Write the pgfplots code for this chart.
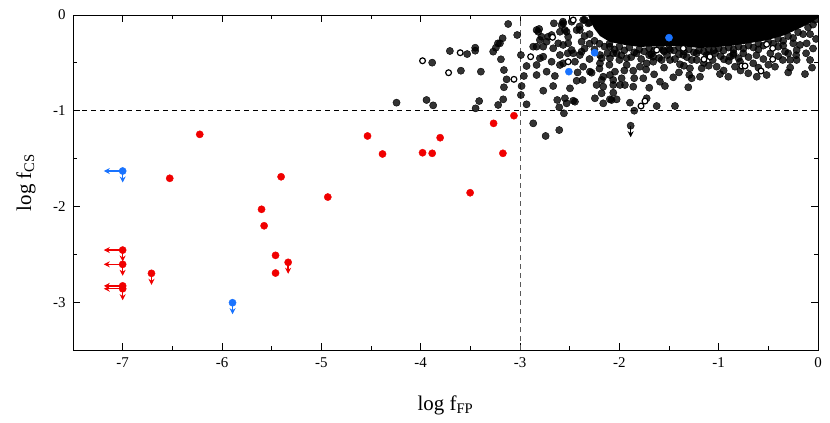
\documentclass[border=0pt]{standalone}
\usepackage{fontspec}
\setmainfont{Liberation Serif}
\usepackage{pgfplots}
\pgfplotsset{compat=1.18}
\usetikzlibrary{arrows.meta}
\definecolor{myred}{RGB}{240,0,0}
\definecolor{myblue}{RGB}{25,115,255}
\begin{document}
\begin{tikzpicture}
\begin{axis}[
 width=745bp, height=335bp, scale only axis,
 xmin=-7.5, xmax=0, ymin=-3.5, ymax=0,
 xtick={-7,-6,-5,-4,-3,-2,-1,0}, ytick={-3,-2,-1,0},
 minor xtick={-6.5,-5.5,-4.5,-3.5,-2.5,-1.5,-0.5},
 minor ytick={-2.5,-1.5,-0.5},
 tick align=inside,
 major tick length=7bp, minor tick length=4bp,
 tick style={black, line width=0.8bp},
 axis line style={line width=0.9bp},
 clip marker paths=true,
 /pgf/number format/assume math mode=true,
 ticklabel style={font=\fontsize{15}{15}\selectfont},
 xticklabel style={yshift=-4bp},
 yticklabel style={xshift=-4bp},
 xlabel={log f\textsubscript{FP}},
 ylabel={log f\textsubscript{CS}},
 label style={font=\fontsize{21}{21}\selectfont, inner sep=0pt},
 xlabel style={at={(axis description cs:0.5,-0.135)}, anchor=north},
 ylabel style={at={(axis description cs:-0.05,0.5)}, anchor=south},
]
% reference lines
\addplot[black!65, line width=1bp, dash pattern=on 5bp off 4bp] coordinates {(-3,-3.5) (-3,0)};
\addplot[black, line width=1bp, dash pattern=on 5bp off 4bp] coordinates {(-7.5,-1) (0,-1)};

% saturated core of the dense cluster
\addplot[fill=black, draw=none, mark=none] coordinates {
(-2.316,0) (0,0) (0,-0.031) (-0.060,-0.073) (-0.181,-0.136) (-0.332,-0.209)
(-0.504,-0.261) (-0.685,-0.293) (-0.886,-0.324) (-1.188,-0.345) (-1.390,-0.324)
(-1.591,-0.324) (-1.793,-0.334) (-1.944,-0.313) (-2.095,-0.282) (-2.195,-0.219)
(-2.256,-0.136) (-2.296,-0.052) (-2.316,0)};

% black scattered points
\addplot[only marks, black, mark=*, mark size=3.6bp, mark options={draw=none, fill=black, fill opacity=0.8}] table {
x y
-3.119 -0.094
-3.028 -0.209
-3.706 -0.376
-3.451 -0.342
-3.451 -0.373
-3.532 -0.408
-3.884 -0.498
-3.595 -0.582
-3.394 -0.592
-3.270 -0.383
-3.202 -0.296
-3.175 -0.243
-3.192 -0.463
-3.162 -0.575
-3.135 -0.672
-3.162 -0.755
-3.169 -0.881
-3.220 -0.940
-3.411 -0.899
-3.447 -0.975
-3.941 -0.888
-3.874 -0.944
-2.991 -0.418
-2.984 -0.742
-2.991 -0.836
-2.961 -0.637
-2.867 -1.132
-2.742 -1.264
-2.605 -1.202
-2.558 -1.027
-2.605 -0.964
-2.531 -0.923
-2.548 -0.870
-2.464 -0.896
-2.497 -0.766
-2.625 -0.888
-2.766 -0.791
-2.666 -0.742
-2.649 -0.637
-2.732 -0.592
-2.833 -0.627
-2.934 -0.533
-2.833 -0.522
-2.800 -0.452
-2.867 -0.331
-2.817 -0.175
-2.716 -0.227
-2.659 -0.087
-2.548 -0.157
-2.370 -0.679
-2.430 -0.687
-2.229 -0.731
-2.246 -0.870
-2.162 -0.923
-2.078 -0.888
-2.178 -0.818
-2.061 -0.731
-2.279 -0.603
-2.178 -0.679
-4.243 -0.916
-2.934 -0.933
-3.222 -0.296
-3.243 -0.342
-2.833 -0.331
-2.807 -0.146
-2.783 -0.227
-1.759 -0.661
-1.699 -0.760
-1.541 -0.742
-1.457 -0.651
-1.306 -0.755
-1.390 -0.515
-1.289 -0.557
-1.296 -0.627
-1.188 -0.645
-1.171 -0.557
-1.020 -0.540
-0.987 -0.617
-0.903 -0.645
-0.836 -0.540
-0.702 -0.609
-0.617 -0.645
-0.517 -0.627
-0.433 -0.540
-0.131 -0.617
-0.215 -0.470
-0.282 -0.470
-0.355 -0.470
-0.332 -0.383
-0.215 -0.366
-0.114 -0.296
-0.181 -0.313
-0.249 -0.296
-2.061 -0.812
-2.095 -0.881
-2.027 -0.881
-1.893 -0.916
-1.850 -1.000
-1.725 -0.870
-1.624 -0.951
-1.440 -0.951
-1.994 -0.731
-1.944 -0.731
-1.977 -0.661
-1.860 -0.582
-1.926 -0.522
-1.793 -0.540
-1.659 -0.488
-1.574 -0.470
-1.490 -0.470
-1.272 -0.470
-1.222 -0.400
-1.121 -0.418
-0.853 -0.418
-0.752 -0.400
-0.652 -0.505
-1.037 -0.400
-0.947 -0.463
-2.162 -0.749
-2.162 -0.645
-2.044 -0.592
-2.581 -0.104
-2.480 -0.070
-2.531 -0.175
-2.397 -0.157
-2.313 -0.087
-2.833 -0.157
-2.800 -0.261
-2.682 -0.209
-2.766 -0.331
-2.615 -0.296
-2.515 -0.296
-2.380 -0.279
-2.480 -0.366
-2.380 -0.383
-2.598 -0.418
-2.766 -0.436
-2.682 -0.488
-2.598 -0.522
-2.447 -0.488
-2.364 -0.540
-2.296 -0.592
-2.195 -0.505
-2.095 -0.452
-2.195 -0.418
-2.095 -0.331
-2.027 -0.400
-1.926 -0.452
-1.725 -0.505
-1.659 -0.436
-2.061 -0.679
-1.860 -0.749
-2.447 -0.906
-1.591 -0.697
-2.095 -0.627
-1.558 -0.366
-2.464 -0.400
-2.565 -0.505
-2.565 -0.087
-2.061 -0.400
-1.826 -0.400
-1.272 -0.661
-0.400 -0.331
-0.785 -0.488
-0.886 -0.436
-1.356 -0.418
-1.490 -0.366
-2.568 -0.070
-2.364 -0.052
-2.430 -0.157
-2.598 -0.175
-2.515 -0.227
-2.732 -0.279
-2.666 -0.348
-2.565 -0.313
-2.397 -0.418
-2.178 -0.452
-2.35 -0.05
-2.40 -0.12
-2.35 -0.22
-2.30 -0.30
-2.30 -0.08
-2.30 -0.20
-2.25 -0.27
-2.20 -0.30
-2.15 -0.33
-2.10 -0.30
-2.05 -0.36
-2.00 -0.33
-1.95 -0.37
-1.90 -0.34
-1.85 -0.39
-1.80 -0.36
-1.75 -0.38
-1.70 -0.35
-1.65 -0.37
-1.60 -0.34
-1.55 -0.38
-1.50 -0.35
-1.45 -0.37
-1.40 -0.34
-1.35 -0.38
-1.30 -0.36
-1.25 -0.39
-1.20 -0.37
-1.15 -0.38
-1.10 -0.36
-1.05 -0.37
-1.00 -0.35
-0.95 -0.37
-0.90 -0.34
-0.85 -0.36
-0.80 -0.33
-0.75 -0.35
-0.70 -0.32
-0.65 -0.34
-0.60 -0.30
-0.55 -0.32
-0.50 -0.28
-0.45 -0.30
-0.40 -0.25
-0.35 -0.27
-0.30 -0.22
-0.25 -0.24
-0.20 -0.18
-0.15 -0.20
-0.10 -0.13
-0.05 -0.10
-0.03 -0.05
-1.98 -0.42
-1.70 -0.42
-1.40 -0.41
-1.10 -0.42
-0.85 -0.40
-0.60 -0.36
-0.35 -0.32
-0.08 -0.20
-2.25 -0.36
-2.12 -0.40
-2.00 -0.47
-1.88 -0.44
-1.78 -0.46
-1.68 -0.41
-1.60 -0.45
-1.52 -0.42
-1.44 -0.46
-1.32 -0.44
-1.22 -0.47
-1.15 -0.50
-1.06 -0.47
-0.98 -0.43
-0.90 -0.48
-0.80 -0.45
-0.70 -0.44
-0.62 -0.42
-0.55 -0.46
-0.48 -0.40
-0.40 -0.43
-0.30 -0.40
-0.22 -0.42
-0.12 -0.40
-0.05 -0.35
-0.02 -0.25
-0.08 -0.47
-0.28 -0.55
-0.60 -0.55
-0.95 -0.58
-1.40 -0.60
-1.65 -0.62
-1.85 -0.66
-2.30 -0.46
-2.20 -0.56
-2.42 -0.60
-2.52 -0.40
-2.35 -0.35
-2.10 -0.52
-1.95 -0.58
-1.73 -0.57
-1.55 -0.55
-1.35 -0.53
-1.10 -0.53
-0.78 -0.58
-0.50 -0.52
-0.30 -0.60
-0.06 -0.55
};

% open circles
\addplot[only marks, black, mark=*, mark size=2.9bp, mark options={draw=black, fill=white, line width=1.2bp}] table {
x y
-3.981 -0.478
-3.602 -0.394
-3.719 -0.603
-3.061 -0.672
-2.893 -0.436
-2.672 -0.233
-2.464 -0.052
-2.515 -0.488
-1.782 -0.951
-1.742 -0.899
-1.624 -0.366
-1.148 -0.463
-1.088 -0.436
-0.768 -0.533
-0.735 -0.533
-0.574 -0.585
-0.456 -0.463
-0.456 -0.348
-0.517 -0.306
-1.356 -0.348
};

% arrows (upper limits)
\addplot[myred, line width=1.4bp, -{Stealth[length=6bp,width=6bp]}, quiver={u=\thisrow{u},v=\thisrow{v}}] table {
x y u v
-7.0 -2.456 -0.19 0
-7.0 -2.605 -0.19 0
-7.0 -2.830 -0.19 0
-7.0 -2.860 -0.19 0
-7.0 -2.456 0 -0.12
-7.0 -2.605 0 -0.12
-7.0 -2.860 0 -0.12
-6.710 -2.699 0 -0.12
-5.334 -2.584 0 -0.12
};
\addplot[myblue, line width=1.4bp, -{Stealth[length=6bp,width=6bp]}, quiver={u=\thisrow{u},v=\thisrow{v}}] table {
x y u v
-7.0 -1.630 -0.19 0
-7.0 -1.630 0 -0.12
-5.894 -3.006 0 -0.12
};
\addplot[black, line width=1.4bp, -{Stealth[length=6bp,width=6bp]}, quiver={u=\thisrow{u},v=\thisrow{v}}] table {
x y u v
-1.886 -1.157 0 -0.12
};

% red points
\addplot[only marks, myred, mark=*, mark size=3.6bp, mark options={draw=none, fill=myred}] table {
x y
-6.224 -1.247
-4.535 -1.264
-6.526 -1.706
-5.405 -1.690
-4.935 -1.902
-5.602 -2.030
-5.576 -2.202
-5.461 -2.511
-5.461 -2.696
-4.384 -1.452
-3.981 -1.439
-3.884 -1.445
-3.804 -1.282
-3.266 -1.132
-3.061 -1.052
-3.172 -1.445
-3.502 -1.857
-5.334 -2.584
-6.710 -2.699
-7.0 -2.456
-7.0 -2.605
-7.0 -2.830
-7.0 -2.860
};

% blue points
\addplot[only marks, myblue, mark=*, mark size=3.6bp, mark options={draw=none, fill=myblue}] table {
x y
-7.0 -1.630
-5.894 -3.006
-2.508 -0.592
-2.249 -0.394
-1.500 -0.237
};

% black upper-limit point
\addplot[only marks, black, mark=*, mark size=3.6bp, mark options={draw=none, fill=black, fill opacity=0.8}] coordinates {(-1.886,-1.157)};
\end{axis}
\path ([shift={(-73bp,-73bp)}]current axis.south west) rectangle ([shift={(12bp,15bp)}]current axis.north east);
\end{tikzpicture}
\end{document}
